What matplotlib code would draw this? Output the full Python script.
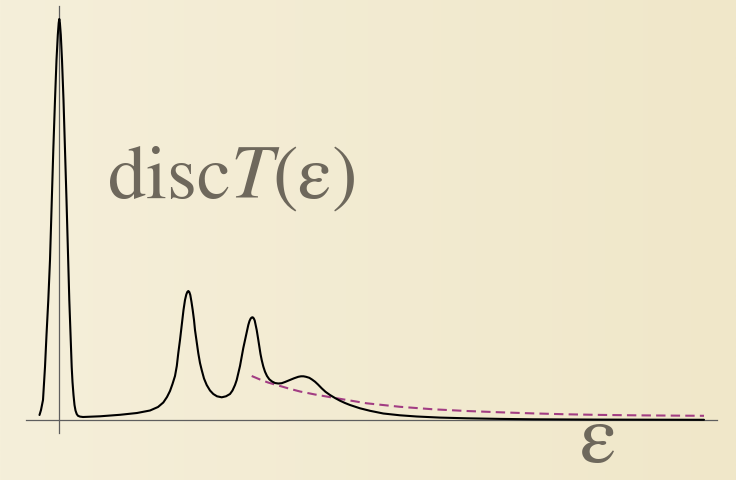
import numpy as np
import matplotlib
matplotlib.use("Agg")
import matplotlib.pyplot as plt
from matplotlib.colors import LinearSegmentedColormap

# spectral curve disc T(eps) (arbitrary units)
eps = [-2.00, -1.85, -1.65, -1.45, -1.30, -1.12, -0.95, -0.80, -0.62, -0.45, -0.30,
       -0.17, -0.08, -0.02, 0.04, 0.13, 0.25, 0.40, 0.55, 0.70, 0.85, 0.98, 1.10,
       1.22, 1.30, 1.40, 1.50, 1.60, 1.72, 1.85, 2.05, 2.35,
       4.05, 6.05, 7.75, 9.05, 9.85, 10.38, 10.75, 11.05, 11.30, 11.55, 11.73, 11.88,
       12.05, 12.22, 12.40, 12.55, 12.68, 12.78, 12.88, 12.98, 13.08, 13.20, 13.32,
       13.45, 13.55, 13.72, 13.88, 14.05, 14.22, 14.45, 14.72, 15.05, 15.38, 15.75,
       16.22, 16.65, 17.05, 17.30, 17.55, 17.72, 17.88, 18.05, 18.22, 18.38, 18.55,
       18.72, 18.88, 19.00, 19.12, 19.22, 19.32, 19.42, 19.52, 19.62, 19.72, 19.85,
       19.98, 20.10, 20.22, 20.38, 20.55, 20.75, 20.98, 21.25, 21.55, 21.88, 22.22,
       22.55, 23.05, 23.45, 23.88, 24.15, 24.40, 24.65, 24.98, 25.25, 25.55, 25.85,
       26.22, 26.60, 27.05, 27.55, 28.05, 28.55, 29.05, 30.05, 31.05, 32.38, 34.05,
       35.72, 38.05, 40.72, 44.05, 47.35, 54.05, 64.45]
disc_t = [0.50, 1.00, 2.00, 5.30, 8.50, 12.00, 16.00, 21.00, 27.00, 32.00, 36.00,
          38.50, 39.70, 40.10, 39.70, 38.50, 36.00, 32.00, 27.00, 22.00, 16.50, 12.00, 8.50,
          5.30, 3.80, 2.50, 1.50, 0.95, 0.60, 0.42, 0.34, 0.30,
          0.37, 0.52, 0.70, 0.95, 1.30, 1.75, 2.30, 2.90, 3.60, 4.40, 5.40, 6.70,
          8.00, 9.50, 11.00, 12.00, 12.55, 12.80, 12.90, 12.80, 12.50, 11.80, 11.00,
          10.00, 9.00, 7.80, 6.67, 5.70, 5.00, 4.15, 3.50, 2.95, 2.60, 2.37,
          2.27, 2.37, 2.60, 2.95, 3.50, 4.00, 4.67, 5.40, 6.33, 7.20, 8.00,
          8.80, 9.50, 9.90, 10.15, 10.25, 10.27, 10.17, 9.95, 9.50, 9.00, 8.20,
          7.33, 6.60, 6.00, 5.35, 4.83, 4.40, 4.07, 3.85, 3.70, 3.65, 3.68,
          3.80, 4.00, 4.17, 4.32, 4.37, 4.37, 4.32, 4.22, 4.05, 3.83, 3.55,
          3.17, 2.82, 2.50, 2.20, 1.93, 1.70, 1.50, 1.17, 0.92, 0.65, 0.47,
          0.35, 0.24, 0.17, 0.11, 0.07, 0.04, 0.02]

# continuum / tail estimate (dashed)
eps_tail = [19.22, 20.05, 20.85, 21.72, 22.85, 24.05, 25.55, 27.38, 29.05, 30.72,
            34.05, 37.38, 40.72, 44.05, 47.38, 50.72, 54.05, 57.38, 61.05, 64.45]
tail = [4.40, 4.05, 3.75, 3.50, 3.17, 2.85, 2.55, 2.23, 1.95, 1.67,
        1.32, 1.07, 0.90, 0.77, 0.66, 0.57, 0.51, 0.47, 0.44, 0.42]

text_color = "#6e685c"

plt.rcParams["mathtext.fontset"] = "stix"

fig = plt.figure(figsize=(7.36, 4.8), dpi=100)
ax = fig.add_axes([0, 0, 1, 1])

# paper-like background
bg = LinearSegmentedColormap.from_list("bg", ["#f5efda", "#f0e7c9"])
ax.imshow(np.linspace(0, 1, 256).reshape(1, -1), cmap=bg, aspect="auto",
          extent=[0, 1, 0, 1], transform=ax.transAxes, zorder=0)

ax.plot(eps, disc_t, color="black", lw=1.5, zorder=4,
        solid_joinstyle="round", solid_capstyle="round")
ax.plot(eps_tail, tail, color="#a23d83", lw=1.5, ls=(0, (4.5, 2.5)), zorder=3)

ax.set_xlim(-5.95, 67.65)
ax.set_ylim(-6.0, 42.0)

for side in ["top", "right"]:
    ax.spines[side].set_visible(False)
ax.spines["bottom"].set_position(("data", 0))
ax.spines["left"].set_position(("data", 0))
ax.spines["bottom"].set_bounds(-3.35, 65.75)
ax.spines["left"].set_bounds(-1.3, 41.4)
for side in ["bottom", "left"]:
    ax.spines[side].set_color("#5e5e5e")
    ax.spines[side].set_linewidth(0.9)
ax.set_xticks([])
ax.set_yticks([])

ax.text(4.72, 22.2, r"$\mathrm{disc}T(\mathrm{ε})$", fontsize=55,
        color=text_color, ha="left", va="baseline")
ax.text(53.8, -5.9, r"$\mathrm{ε}$", fontsize=60,
        color=text_color, ha="center", va="bottom")

fig.savefig("out.png", dpi=100)
